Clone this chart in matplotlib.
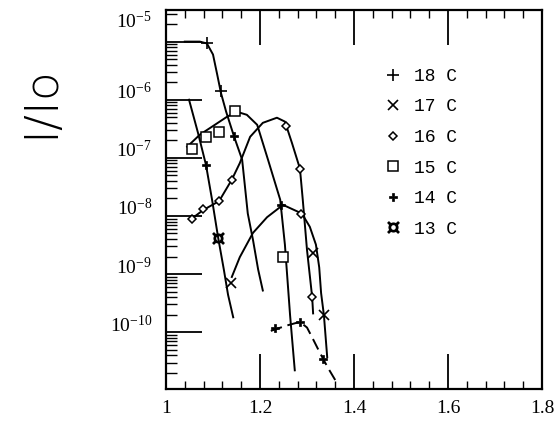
import numpy as np
import matplotlib
matplotlib.use('Agg')
import matplotlib.pyplot as plt
import matplotlib.transforms as mtransforms
from matplotlib.lines import Line2D
from matplotlib.ticker import MultipleLocator, NullFormatter, LogLocator

plt.rcParams['font.family'] = ['Liberation Serif', 'DejaVu Serif']
plt.rcParams['mathtext.fontset'] = 'stix'

# ---- data ----
# curves (lines)
c18_x = [1.040, 1.072, 1.087, 1.100, 1.109, 1.117, 1.128, 1.145, 1.162, 1.174, 1.185, 1.196, 1.206]
c18_y = [1.0e-5, 1.0e-5, 9.3e-6, 6.0e-6, 2.7e-6, 1.3e-6, 6.2e-7, 2.3e-7, 9.3e-8, 1.1e-8, 3.9e-9, 1.2e-9, 5.2e-10]

c17_x = [1.140, 1.157, 1.185, 1.215, 1.249, 1.289, 1.306, 1.319, 1.326, 1.330, 1.336, 1.343]
c17_y = [8.9e-10, 1.95e-9, 5.1e-9, 9.5e-9, 1.55e-8, 1.1e-8, 6.5e-9, 3.2e-9, 1.3e-9, 4.7e-10, 1.95e-10, 3.7e-11]

c16_x = [1.051, 1.079, 1.113, 1.140, 1.157, 1.179, 1.206, 1.236, 1.253, 1.268, 1.285, 1.291, 1.300, 1.311, 1.313]
c16_y = [8.5e-9, 1.26e-8, 1.8e-8, 4.2e-8, 8.1e-8, 2.3e-7, 4.0e-7, 4.9e-7, 4.2e-7, 1.8e-7, 6.5e-8, 1.9e-8, 2.6e-9, 4.0e-10, 2.1e-10]

c15_x = [1.045, 1.072, 1.104, 1.130, 1.151, 1.172, 1.194, 1.217, 1.243, 1.253, 1.264, 1.274]
c15_y = [1.55e-7, 2.5e-7, 3.7e-7, 5.1e-7, 6.2e-7, 5.5e-7, 3.7e-7, 9.3e-8, 1.9e-8, 3.2e-9, 1.95e-10, 2.2e-11]

c14_x = [1.223, 1.257, 1.285, 1.300, 1.311, 1.323, 1.334, 1.345, 1.360]
c14_y = [1.05e-10, 1.3e-10, 1.5e-10, 1.2e-10, 8.1e-11, 5.2e-11, 3.5e-11, 2.4e-11, 1.5e-11]

c13_x = [1.049, 1.068, 1.085, 1.098, 1.111, 1.123, 1.132, 1.143]
c13_y = [1.0e-6, 2.7e-7, 7.6e-8, 1.9e-8, 4.2e-9, 1.2e-9, 4.4e-10, 1.8e-10]

# measured points (markers)
p18_x = [1.087, 1.117]
p18_y = [9.3e-6, 1.4e-6]
p17_x = [1.138, 1.313, 1.336]
p17_y = [6.9e-10, 2.3e-9, 1.95e-10]
p16_x = [1.055, 1.079, 1.113, 1.140, 1.255, 1.285, 1.287, 1.311]
p16_y = [8.9e-9, 1.3e-8, 1.8e-8, 4.2e-8, 3.5e-7, 6.5e-8, 1.1e-8, 4.0e-10]
p15_x = [1.055, 1.085, 1.113, 1.147, 1.249]
p15_y = [1.4e-7, 2.3e-7, 2.8e-7, 6.5e-7, 1.95e-9]
p14_x = [1.085, 1.145, 1.245, 1.232, 1.285, 1.334]
p14_y = [7.6e-8, 2.4e-7, 1.55e-8, 1.2e-10, 1.5e-10, 3.5e-11]
p13_x = [1.111]
p13_y = [4.2e-9]

legend_labels = ['18 C', '17 C', '16 C', '15 C', '14 C', '13 C']
x_ticks = [1.0, 1.2, 1.4, 1.6, 1.8]
x_ticklabels = ['1', '1.2', '1.4', '1.6', '1.8']
y_ticks = [1e-10, 1e-9, 1e-8, 1e-7, 1e-6, 1e-5]

fig = plt.figure(figsize=(5.54, 4.24), dpi=100)
ax = fig.add_axes([166 / 554, 1 - 389 / 424, 376 / 554, 379 / 424])

lw = 1.4
for cx, cy in [(c18_x, c18_y), (c17_x, c17_y), (c16_x, c16_y), (c15_x, c15_y), (c13_x, c13_y)]:
    ax.plot(cx, cy, color='black', lw=lw)
ax.plot(c14_x, c14_y, color='black', lw=lw, dashes=(6, 3))

ax.plot(p18_x, p18_y, ls='none', marker='+', ms=8, mew=1.2, color='black')
ax.plot(p17_x, p17_y, ls='none', marker='x', ms=7, mew=1.2, color='black')
ax.plot(p16_x, p16_y, ls='none', marker='D', ms=4.5, mew=1.1, mfc='white', mec='black')
ax.plot(p15_x, p15_y, ls='none', marker='s', ms=7, mew=1.1, mfc='white', mec='black')
ax.plot(p14_x, p14_y, ls='none', marker='P', ms=6, mew=0.5, color='black')
ax.plot(p13_x, p13_y, ls='none', marker='$¤$', ms=8, color='black')

ax.set_yscale('log')
ax.set_xlim(1.0, 1.8)
ax.set_ylim(1.05e-11, 3.5e-5)

ax.set_xticks(x_ticks)
ax.set_xticklabels(x_ticklabels)
ax.xaxis.set_minor_locator(MultipleLocator(0.04))
ax.set_yticks(y_ticks)
ax.yaxis.set_minor_locator(LogLocator(base=10, subs=np.arange(2, 10), numticks=20))
ax.yaxis.set_minor_formatter(NullFormatter())

ax.tick_params(axis='x', which='major', direction='in', length=25, width=1.3,
               top=True, bottom=True, labelsize=14, pad=8)
ax.tick_params(axis='x', which='minor', direction='in', length=6, width=1.0, top=True, bottom=True)
ax.tick_params(axis='y', which='major', direction='in', length=26, width=1.3,
               left=True, right=False, labelsize=14, pad=10)
ax.tick_params(axis='y', which='minor', direction='in', length=8, width=1.0, left=True, right=False)

for sp in ax.spines.values():
    sp.set_linewidth(1.6)

# tick labels in the scan sit a little above their ticks
fig.canvas.draw()
for lab in ax.get_yticklabels():
    dy = 0.09
    if '-5' in lab.get_text():
        dy = 0.22
    lab.set_transform(lab.get_transform() + mtransforms.ScaledTranslation(0, dy, fig.dpi_scale_trans))

fig.text(40 / 554, 1 - 102 / 424, 'I/Io', rotation=90, fontsize=34,
         ha='center', va='center', family=['DejaVu Sans'], fontweight='light')

handles = [
    Line2D([], [], ls='none', marker='+', ms=8, mew=1.2, color='black'),
    Line2D([], [], ls='none', marker='x', ms=7, mew=1.2, color='black'),
    Line2D([], [], ls='none', marker='D', ms=4.5, mew=1.1, mfc='white', mec='black'),
    Line2D([], [], ls='none', marker='s', ms=7, mew=1.1, mfc='white', mec='black'),
    Line2D([], [], ls='none', marker='P', ms=6, mew=0.5, color='black'),
    Line2D([], [], ls='none', marker='$¤$', ms=8, color='black'),
]
ax.legend(handles, legend_labels, frameon=False, loc='upper left',
          bbox_to_anchor=(0.54, 0.89), handlelength=0.8, handletextpad=0.8,
          labelspacing=0.75, prop={'family': ['Liberation Mono', 'DejaVu Sans Mono'], 'size': 13})

fig.savefig('out.png', dpi=100)
